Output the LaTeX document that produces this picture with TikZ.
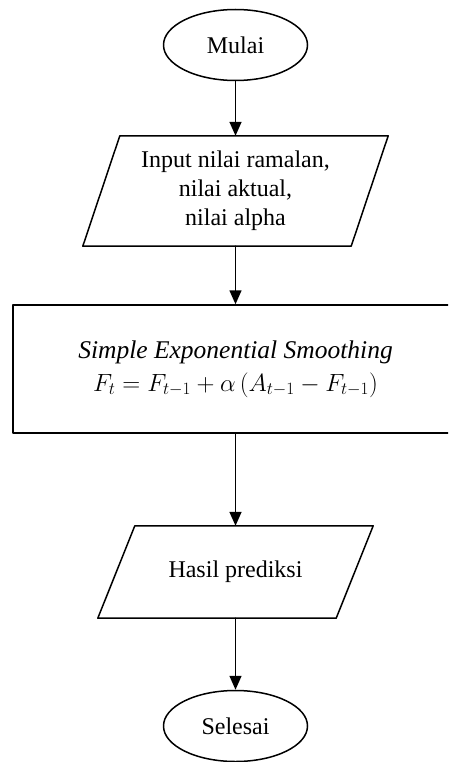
\documentclass[tikz,border=0pt]{standalone}
\usepackage{fontspec}
\setmainfont{Liberation Serif}
\usetikzlibrary{shapes.geometric,arrows.meta}

\begin{document}
\begin{tikzpicture}[x=1pt, y=-1pt, line cap=round, line join=round]
% Flowchart of the forecasting steps
\providecommand{\flowLineWidth}{1.5pt}
\providecommand{\flowSkew}{37pt}
\tikzset{
  terminal/.style={ellipse, draw, line width=\flowLineWidth, minimum width=144pt, minimum height=71pt, inner sep=0pt},
  iobox/.style={rectangle, inner sep=0pt, align=center},
  procbox/.style={rectangle, draw, line width=\flowLineWidth, align=center, inner sep=0pt},
  flow/.style={-{Triangle[width=12pt,length=14pt]}, line width=\flowLineWidth},
  txt/.style={font=\fontsize{24}{29}\selectfont}
}
\useasboundingbox (0,0) rectangle (448,762);
\clip (0,0) rectangle (448,762);
\fill[white] (0,0) rectangle (448,762);
% Nodes
\node[terminal, txt] (mulai) at (235.5,45) {Mulai};
\node[iobox, txt, minimum width=231pt, minimum height=110pt] (input) at (235.5,191) {Input nilai ramalan,\\ nilai aktual,\\ nilai alpha};
\node[procbox, txt, minimum width=445pt, minimum height=128pt] (ses) at (235.5,369) {{\fontsize{25.5}{29}\selectfont\textit{Simple Exponential Smoothing}}\\[4pt] {\fontsize{27}{29}\selectfont$F_t = F_{t-1} + \alpha\,(A_{t-1} - F_{t-1})$}};
\node[iobox, txt, minimum width=201pt, minimum height=92pt] (hasil) at (235.5,572) {Hasil prediksi};
\node[terminal, txt] (selesai) at (235.5,726) {Selesai};
% Parallelogram outlines
\foreach \n in {input,hasil}
  \draw[line width=\flowLineWidth] (\n.north west) -- ([xshift=\flowSkew]\n.north east) -- (\n.south east) -- ([xshift=-\flowSkew]\n.south west) -- cycle;
% Connectors
\draw[flow] (mulai.south) -- (input.north);
\draw[flow] (input.south) -- (ses.north);
\draw[flow] (ses.south) -- (hasil.north);
\draw[flow] (hasil.south) -- (selesai.north);
\end{tikzpicture}
\end{document}
